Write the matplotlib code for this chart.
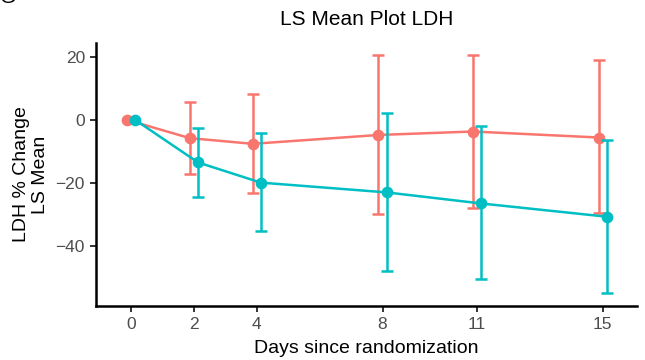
import matplotlib
matplotlib.use("Agg")
import matplotlib.pyplot as plt
import numpy as np

plt.rcParams["font.family"] = ["Liberation Sans", "DejaVu Sans"]

days = [0, 2, 4, 8, 11, 15]
day_labels = ["0", "2", "4", "8", "11", "15"]

# group 1 (red)
red_mean = [0, -5.8, -7.6, -4.8, -3.7, -5.6]
red_lo = [0, -17.1, -23.3, -29.9, -27.8, -29.6]
red_hi = [0, 5.5, 8.3, 20.6, 20.5, 19.0]

# group 2 (teal)
teal_mean = [0, -13.5, -19.9, -23.0, -26.5, -30.7]
teal_lo = [0, -24.3, -35.2, -47.9, -50.3, -55.0]
teal_hi = [0, -2.6, -4.2, 2.3, -2.1, -6.3]

RED = "#F8766D"
TEAL = "#00BFC4"
dodge = 0.13

fig = plt.figure(figsize=(6.45, 3.6), dpi=100)
ax = fig.add_axes([0.149, 0.15, 0.839, 0.731])

for mean, lo, hi, col, off in [(red_mean, red_lo, red_hi, RED, -dodge),
                               (teal_mean, teal_lo, teal_hi, TEAL, dodge)]:
    x = np.array(days) + off
    m = np.array(mean)
    yerr = [m - np.array(lo), np.array(hi) - m]
    ax.errorbar(x[1:], m[1:], yerr=[yerr[0][1:], yerr[1][1:]], fmt="none",
                ecolor=col, elinewidth=1.8, capsize=4.6, capthick=1.8)
    ax.plot(x, m, color=col, lw=1.8, marker="o", markersize=7.4)

ax.set_xlim(-1.11, 16.1)
ax.set_ylim(-59.0, 24.4)
ax.set_xticks(days)
ax.set_xticklabels(day_labels)
ax.set_yticks([20, 0, -20, -40])
ax.set_yticklabels(["20", "0", "\u221220", "\u221240"])

for s in ["top", "right"]:
    ax.spines[s].set_visible(False)
for s in ["left", "bottom"]:
    ax.spines[s].set_linewidth(1.8)
    ax.spines[s].set_color("black")
ax.tick_params(axis="both", colors="#333333", length=4, width=1.4,
               labelsize=12.5, labelcolor="#4D4D4D", pad=4)

ax.set_title("LS Mean Plot LDH", fontsize=15, pad=13)
ax.set_xlabel("Days since randomization", fontsize=14, labelpad=6)
ax.set_ylabel("LDH % Change\nLS Mean", fontsize=14, labelpad=5, linespacing=1.1)

fig.text(0.0, 1.008, "G", fontsize=15, ha="left", va="center")

fig.savefig("out.png", dpi=100)
